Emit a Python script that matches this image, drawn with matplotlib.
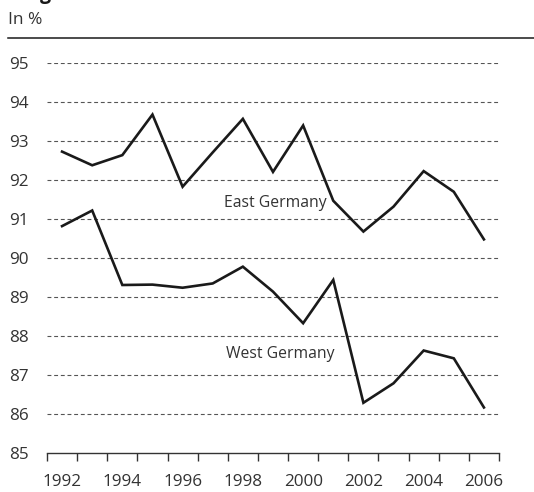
#!/usr/bin/env python3
"""Share in % for East and West Germany, 1992-2006."""

import matplotlib
matplotlib.use("Agg")
import matplotlib.pyplot as plt
from matplotlib.lines import Line2D
import numpy as np

plt.rcParams["font.family"] = ["Open Sans", "DejaVu Sans"]

years = list(range(1992, 2007))
east = [92.72, 92.37, 92.63, 93.67, 91.82, 92.70, 93.56, 92.20, 93.39,
        91.46, 90.67, 91.31, 92.22, 91.69, 90.47]
west = [90.81, 91.21, 89.30, 89.31, 89.23, 89.34, 89.77, 89.13, 88.32,
        89.43, 86.28, 86.78, 87.62, 87.42, 86.16]
y_ticks = list(range(85, 96))
x_labels = list(range(1992, 2007, 2))

TEXT = "#333333"

fig = plt.figure(figsize=(5.34, 4.92), dpi=100)
ax = fig.add_axes([47 / 534, 1 - 452.7 / 492, 452 / 534, 390 / 492])

# dashed grid lines
for v in y_ticks[1:]:
    ax.axhline(v, color="#555555", lw=0.8, ls=(0, (3.5, 2.5)), zorder=1)

ax.plot(years, east, color="#1a1a1a", lw=1.9, solid_joinstyle="miter", zorder=3)
ax.plot(years, west, color="#1a1a1a", lw=1.9, solid_joinstyle="miter", zorder=3)

ax.text(1999.08, 91.4, "East Germany", ha="center", va="center",
        fontsize=11.3, color=TEXT)
ax.text(1999.24, 87.52, "West Germany", ha="center", va="center",
        fontsize=11.3, color=TEXT)

ax.set_xlim(1991.5, 2006.5)
ax.set_ylim(85, 95)

for s in ["top", "right", "left"]:
    ax.spines[s].set_visible(False)
ax.spines["bottom"].set_color("#333333")
ax.spines["bottom"].set_linewidth(1.0)

ax.set_yticks(y_ticks)
ax.tick_params(axis="y", length=0, pad=13, labelsize=12.3, labelcolor=TEXT)

ax.set_xticks(x_labels)
ax.set_xticks(np.arange(1991.5, 2007, 1.0), minor=True)
ax.tick_params(axis="x", which="major", length=0, pad=15.5, labelsize=12.3,
               labelcolor=TEXT)
ax.tick_params(axis="x", which="minor", length=5.5, width=1.0,
               color="#333333", direction="out")

# header
fig.text(8 / 534, 1 - 20 / 492, "In %", ha="left", va="center",
         fontsize=12.5, color=TEXT)
fig.add_artist(Line2D([8 / 534, 1.0], [1 - 38.3 / 492, 1 - 38.3 / 492],
                      transform=fig.transFigure, color="#1a1a1a", lw=1.1))
fig.text(40 / 534, 1 + 1 / 492, "g", ha="left", va="baseline",
         fontsize=14, fontweight="bold", color="#1a1a1a")

fig.savefig("out.png", dpi=100)
